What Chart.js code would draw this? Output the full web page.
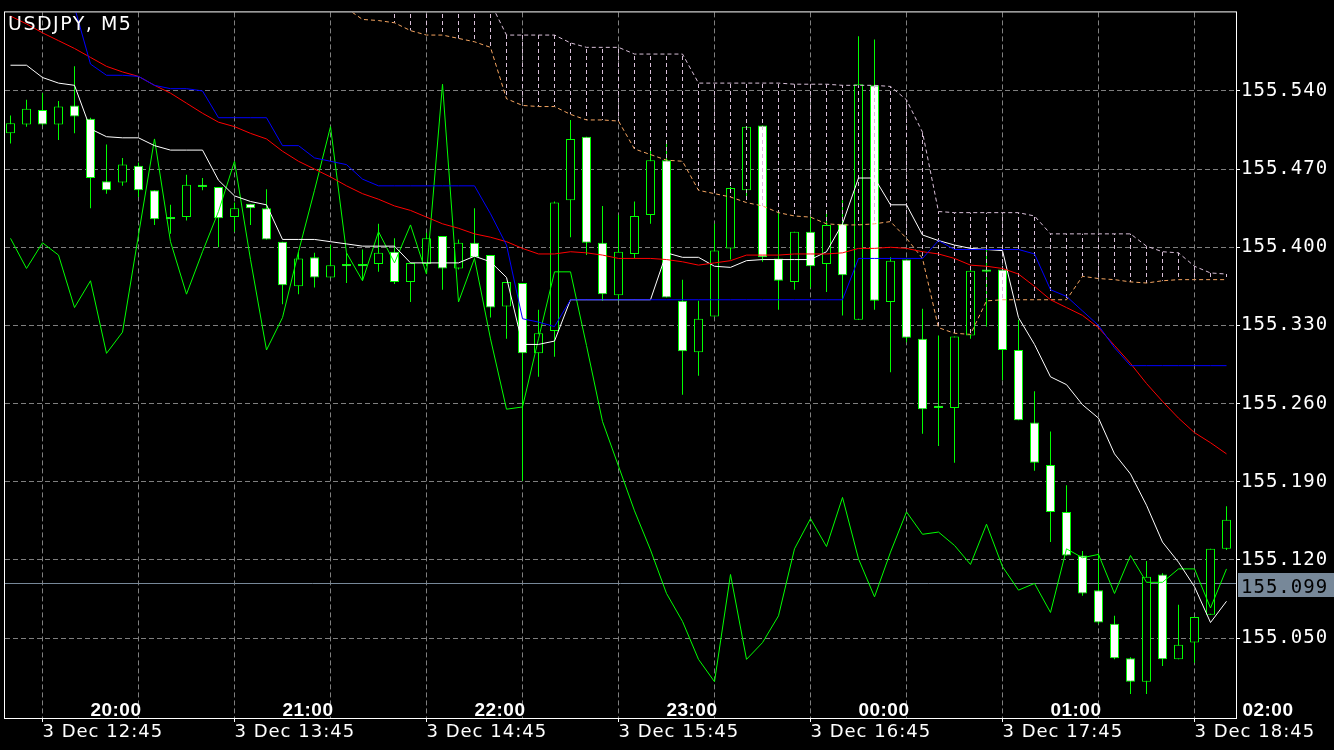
<!DOCTYPE html>
<html><head><meta charset="utf-8">
<script src="https://cdn.jsdelivr.net/npm/chart.js@4.4.0/dist/chart.umd.min.js"></script>
<style>html,body{margin:0;padding:0;background:#000;overflow:hidden}canvas{display:block}</style>
</head><body>
<canvas id="c" width="1334" height="750"></canvas>
<script>
// ---- data (USDJPY, M5) ----
const symbolTitle = 'USDJPY, M5';
const bidPrice = 155.099;
const yTicks = [155.050, 155.120, 155.190, 155.260, 155.330, 155.400, 155.470, 155.540];
const gridIdx = [2, 8, 14, 20, 26, 32, 38, 44, 50, 56, 62, 68, 74];
const dateLabelIdx = [2, 14, 26, 38, 50, 62, 74];
const dateLabels = ['3 Dec 12:45', '3 Dec 13:45', '3 Dec 14:45', '3 Dec 15:45', '3 Dec 16:45', '3 Dec 17:45', '3 Dec 18:45'];
const hourLabelIdx = [8, 20, 32, 44, 56, 68, 80];
const hourLabels = ['20:00', '21:00', '22:00', '23:00', '00:00', '01:00', '02:00'];

const opens = [155.502,155.510,155.523,155.510,155.527,155.515,155.459,155.458,155.473,155.451,
155.427,155.427,155.456,155.454,155.427,155.439,155.435,155.405,155.365,155.391,
155.373,155.385,155.385,155.385,155.396,155.369,155.385,155.410,155.381,155.404,
155.393,155.347,155.368,155.305,155.325,155.442,155.499,155.404,155.357,155.394,
155.429,155.478,155.352,155.306,155.338,155.399,155.451,155.509,155.390,155.369,
155.414,155.385,155.421,155.335,155.545,155.351,155.389,155.318,155.258,155.256,
155.321,155.380,155.380,155.308,155.243,155.205,155.163,155.124,155.093,155.063,
155.032,155.011,155.107,155.031,155.046,155.071,155.130];
const highs = [155.518,155.532,155.538,155.531,155.562,155.516,155.492,155.480,155.476,155.451,
155.438,155.465,155.462,155.454,155.440,155.439,155.452,155.405,155.396,155.395,
155.402,155.395,155.398,155.421,155.408,155.386,155.413,155.410,155.407,155.435,
155.393,155.369,155.368,155.344,155.441,155.514,155.499,155.437,155.429,155.441,
155.488,155.493,155.371,155.352,155.421,155.454,155.508,155.509,155.432,155.414,
155.427,155.432,155.442,155.589,155.586,155.391,155.389,155.345,155.321,155.320,
155.381,155.402,155.380,155.335,155.271,155.235,155.187,155.128,155.126,155.070,
155.033,155.119,155.108,155.080,155.069,155.130,155.168];
const lows = [155.493,155.508,155.509,155.496,155.502,155.435,155.448,155.455,155.445,155.420,
155.412,155.424,155.451,155.400,155.414,155.420,155.407,155.349,155.358,155.364,
155.373,155.368,155.370,155.378,155.367,155.351,155.383,155.362,155.380,155.391,
155.337,155.318,155.191,155.284,155.302,155.409,155.393,155.352,155.352,155.390,
155.421,155.355,155.268,155.285,155.338,155.389,155.445,155.387,155.344,155.362,
155.364,155.360,155.339,155.335,155.344,155.288,155.315,155.233,155.222,155.207,
155.318,155.329,155.281,155.245,155.200,155.136,155.124,155.088,155.063,155.031,
155.000,155.000,155.025,155.031,155.028,155.071,155.129];
const closes = [155.511,155.524,155.510,155.526,155.517,155.462,155.451,155.474,155.451,155.425,
155.425,155.456,155.454,155.426,155.435,155.435,155.407,155.366,155.390,155.373,
155.384,155.383,155.383,155.395,155.369,155.386,155.408,155.381,155.404,155.391,
155.346,155.369,155.305,155.323,155.440,155.497,155.404,155.358,155.396,155.428,
155.478,155.355,155.307,155.336,155.397,155.453,155.508,155.391,155.370,155.414,
155.383,155.420,155.375,155.546,155.352,155.388,155.319,155.255,155.256,155.320,
155.379,155.378,155.308,155.245,155.207,155.163,155.124,155.090,155.064,155.032,
155.011,155.105,155.031,155.044,155.069,155.130,155.156];

const whiteLine = [155.563,155.563,155.552,155.547,155.545,155.506,155.499,155.498,155.498,155.491,
155.487,155.487,155.487,155.460,155.446,155.441,155.438,155.407,155.407,155.407,
155.405,155.403,155.401,155.401,155.401,155.386,155.386,155.386,155.386,155.392,
155.387,155.373,155.313,155.313,155.316,155.353,155.353,155.353,155.353,155.353,
155.353,155.395,155.391,155.391,155.383,155.382,155.388,155.389,155.389,155.389,
155.389,155.396,155.421,155.462,155.462,155.438,155.438,155.411,155.406,155.402,
155.399,155.398,155.397,155.337,155.313,155.284,155.277,155.259,155.247,155.215,
155.197,155.169,155.136,155.118,155.096,155.064,155.083];
const redLine = [155.607,155.600,155.592,155.585,155.578,155.570,155.562,155.557,155.553,155.545,
155.538,155.529,155.520,155.512,155.508,155.502,155.497,155.486,155.477,155.470,
155.463,155.455,155.448,155.443,155.437,155.433,155.427,155.421,155.417,155.412,
155.409,155.405,155.399,155.394,155.394,155.396,155.395,155.393,155.390,155.390,
155.390,155.389,155.387,155.384,155.386,155.388,155.393,155.393,155.393,155.394,
155.394,155.394,155.395,155.399,155.399,155.400,155.399,155.396,155.394,155.390,
155.384,155.383,155.381,155.376,155.365,155.353,155.346,155.339,155.328,155.312,
155.296,155.278,155.262,155.247,155.234,155.225,155.215];
const blueLine = [null,null,null,null,155.615,155.564,155.554,155.554,155.553,155.545,
155.542,155.542,155.540,155.516,155.516,155.516,155.516,155.491,155.491,155.480,
155.477,155.474,155.461,155.455,155.455,155.455,155.455,155.455,155.455,155.455,
155.430,155.402,155.336,155.333,155.329,155.353,155.353,155.353,155.353,155.353,
155.353,155.353,155.353,155.353,155.353,155.353,155.353,155.353,155.353,155.353,
155.353,155.353,155.353,155.390,155.390,155.390,155.390,155.390,155.406,155.398,
155.398,155.398,155.398,155.398,155.394,155.362,155.356,155.343,155.330,155.310,
155.294,155.294,155.294,155.294,155.294,155.294,155.294];
const greenLine = [155.408,155.381,155.404,155.393,155.346,155.370,155.305,155.324,155.411,155.497,
155.405,155.358,155.396,155.432,155.477,155.389,155.308,155.337,155.396,155.451,
155.508,155.395,155.370,155.414,155.386,155.420,155.376,155.546,155.351,155.390,
155.318,155.255,155.257,155.318,155.378,155.378,155.312,155.244,155.204,155.164,
155.129,155.090,155.065,155.031,155.011,155.107,155.031,155.046,155.070,155.130,
155.157,155.132,155.176,155.121,155.087,155.127,155.163,155.143,155.145,155.133,
155.116,155.152,155.114,155.093,155.099,155.073,155.130,155.122,155.125,155.090,
155.124,155.100,155.100,155.112,155.112,155.077,155.112];
const senkouA = [null,null,null,null,null,null,null,null,null,null,
null,null,null,null,null,null,null,null,null,null,
null,155.614,155.604,155.603,155.601,155.594,155.590,155.590,155.587,155.584,
155.579,155.533,155.527,155.526,155.526,155.519,155.514,155.514,155.513,155.488,
155.483,155.478,155.477,155.451,155.448,155.445,155.440,155.437,155.431,155.428,
155.427,155.421,155.420,155.420,155.421,155.423,155.408,155.390,155.328,155.323,
155.322,155.352,155.353,155.353,155.353,155.353,155.353,155.374,155.372,155.371,
155.369,155.368,155.370,155.371,155.371,155.371,155.371];
const senkouB = [null,null,null,null,null,null,null,null,null,null,
null,null,null,null,null,null,null,null,null,null,
null,null,null,null,155.630,155.630,155.630,155.630,155.630,155.630,
155.619,155.590,155.590,155.590,155.590,155.583,155.579,155.579,155.579,155.573,
155.573,155.573,155.573,155.547,155.547,155.547,155.547,155.547,155.547,155.546,
155.546,155.546,155.545,155.545,155.545,155.544,155.532,155.503,155.432,155.431,
155.431,155.431,155.431,155.431,155.428,155.412,155.412,155.412,155.412,155.412,
155.412,155.401,155.396,155.395,155.383,155.377,155.376];

// ---- build ----
const idx = opens.map((_, i) => i);
const pts = arr => arr.map((v, i) => ({x: i, y: v}));
const wickData = idx.map(i => ({x: i, y: [lows[i], highs[i]]}));
const bodyData = idx.map(i => ({x: i, y: [opens[i], closes[i]]}));
const hatchData = idx.filter(i => senkouA[i] !== null && senkouB[i] !== null)
  .map(i => ({x: i, y: [senkouA[i], senkouB[i]]}));

function hatchPattern(color) {
  const c = document.createElement('canvas');
  c.width = 1; c.height = 7;
  const g = c.getContext('2d');
  g.fillStyle = color; g.fillRect(0, 0, 1, 4);
  return g.createPattern(c, 'repeat');
}

const decor = {
  id: 'mtDecor',
  beforeDraw(chart) {
    const c = chart.ctx;
    c.save(); c.fillStyle = '#000000'; c.fillRect(0, 0, chart.width, chart.height); c.restore();
    c.letterSpacing = '1px';
  },
  beforeDatasetsDraw(chart) {
    const c = chart.ctx, a = chart.chartArea, y = chart.scales.y;
    const py = Math.round(y.getPixelForValue(bidPrice) - 0.5) + 0.5;
    c.save(); c.setLineDash([]); c.strokeStyle = '#778899'; c.lineWidth = 1;
    c.beginPath(); c.moveTo(a.left, py); c.lineTo(a.right, py); c.stroke(); c.restore();
  },
  afterDraw(chart) {
    const c = chart.ctx, a = chart.chartArea, x = chart.scales.x, y = chart.scales.y;
    c.save();
    c.setLineDash([]);
    c.strokeStyle = '#ffffff'; c.lineWidth = 1;
    c.strokeRect(a.left - 0.5, a.top - 0.5, a.right - a.left + 1, a.bottom - a.top + 1);
    c.fillStyle = '#ffffff';
    c.textBaseline = 'alphabetic';
    c.textAlign = 'left';
    c.letterSpacing = '1.5px';
    c.font = '19px "DejaVu Sans"';
    c.fillText(symbolTitle, 8, 29.5);
    c.font = 'bold 19px "Liberation Sans"';
    c.letterSpacing = '0.5px';
    c.textAlign = 'right';
    hourLabels.forEach((t, k) => c.fillText(t, x.getPixelForValue(hourLabelIdx[k]) + 3, 715.5));
    const py = Math.round(y.getPixelForValue(bidPrice));
    c.fillStyle = '#778899';
    c.fillRect(a.right + 2, py - 10, chart.width - a.right - 2, 24);
    c.fillStyle = '#000000';
    c.textAlign = 'left';
    c.letterSpacing = '1px';
    c.font = '19px "DejaVu Sans Mono"';
    c.fillText(bidPrice.toFixed(3), a.right + 5, py + 9.5);
    c.restore();
  }
};

new Chart(document.getElementById('c'), {
  type: 'bar',
  data: {
    datasets: [
      {type: 'line', label: 'kijun', data: pts(blueLine), borderColor: '#0000ff', borderWidth: 1, pointRadius: 0, order: 0},
      {type: 'line', label: 'tenkan', data: pts(redLine), borderColor: '#ff0000', borderWidth: 1, pointRadius: 0, order: 1},
      {type: 'line', label: 'ma', data: pts(whiteLine), borderColor: '#ffffff', borderWidth: 1, pointRadius: 0, order: 2},
      {type: 'line', label: 'chikou', data: pts(greenLine), borderColor: '#00ff00', borderWidth: 1, pointRadius: 0, order: 3},
      {type: 'line', label: 'spanB', data: pts(senkouB), borderColor: '#d8bfd8', borderWidth: 1, borderDash: [4, 3], pointRadius: 0, order: 4},
      {type: 'line', label: 'spanA', data: pts(senkouA), borderColor: '#f4a460', borderWidth: 1, borderDash: [4, 3], pointRadius: 0, order: 5},
      {type: 'bar', label: 'cloud', data: hatchData, backgroundColor: hatchPattern('#d8bfd8'), borderWidth: 0,
        barThickness: 1, grouped: false, inflateAmount: 0, order: 6},
      {type: 'bar', label: 'body', data: bodyData,
        backgroundColor: ctx => (closes[ctx.dataIndex] < opens[ctx.dataIndex] ? '#ffffff' : '#000000'),
        borderColor: '#00ff00', borderWidth: 1, borderSkipped: false, barThickness: 9, grouped: false,
        inflateAmount: 0, minBarLength: 2, order: 7},
      {type: 'bar', label: 'wick', data: wickData, backgroundColor: '#00ff00', borderWidth: 0,
        barThickness: 1, grouped: false, inflateAmount: 0, order: 8}
    ]
  },
  options: {
    responsive: false,
    animation: false,
    events: [],
    layout: {padding: {left: 5, top: 5, right: 0, bottom: 0}},
    plugins: {legend: {display: false}, tooltip: {enabled: false}, title: {display: false}},
    scales: {
      x: {
        type: 'linear', position: 'bottom', offset: false,
        min: -0.34375, max: 76.59375,
        afterBuildTicks: s => { s.ticks = gridIdx.map(v => ({value: v})); },
        afterFit: s => { s.height = 32; },
        grid: {offset: false, color: '#7f7f7f', lineWidth: 1, drawTicks: true, tickLength: 4,
          tickColor: ctx => (ctx.tick && dateLabelIdx.includes(ctx.tick.value)) ? '#ffffff' : 'rgba(0,0,0,0)',
          tickBorderDash: []},
        border: {display: false, dash: [5, 3]},
        ticks: {
          autoSkip: false, maxRotation: 0, minRotation: 0, align: 'start', padding: 0,
          color: '#ffffff', font: {family: 'DejaVu Sans', size: 18},
          callback: v => { const k = dateLabelIdx.indexOf(v); return k >= 0 ? dateLabels[k] : ''; }
        }
      },
      y: {
        type: 'linear', position: 'right',
        min: 154.9785, max: 155.6103,
        afterBuildTicks: s => { s.ticks = yTicks.map(v => ({value: v})); },
        afterFit: s => { s.width = 98; },
        grid: {color: '#7f7f7f', lineWidth: 1, drawTicks: true, tickLength: 4, tickColor: '#ffffff', tickBorderDash: []},
        border: {display: false, dash: [5, 3]},
        ticks: {
          padding: 1, color: '#ffffff', font: {family: 'DejaVu Sans Mono', size: 19},
          callback: v => Number(v).toFixed(3)
        }
      }
    }
  },
  plugins: [decor]
});
</script>
</body></html>
